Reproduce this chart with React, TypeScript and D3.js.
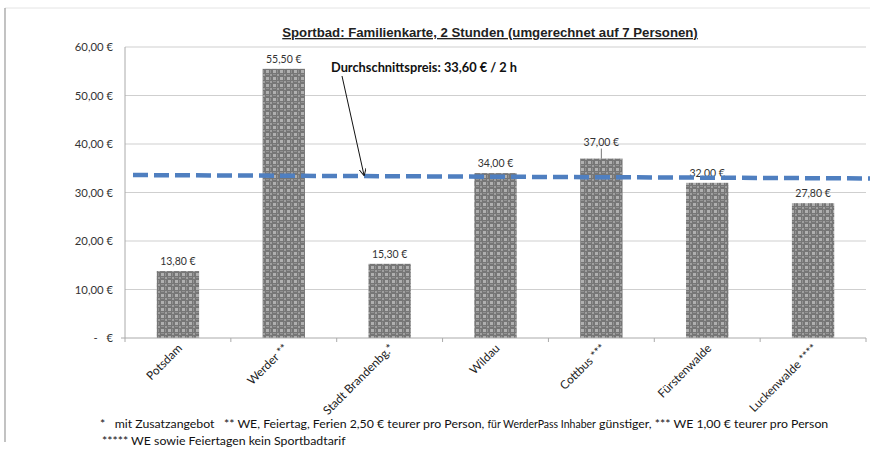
import React from "react";
import * as d3 from "d3";

const categories = ["Potsdam", "Werder **", "Stadt Brandenbg.*", "Wildau", "Cottbus ***", "Fürstenwalde", "Luckenwalde ****"];
const prices = [13.8, 55.5, 15.3, 34.0, 37.0, 32.0, 27.8];
const priceLabels = ["13,80 €", "55,50 €", "15,30 €", "34,00 €", "37,00 €", "32,00 €", "27,80 €"];
const yTicks = [0, 10, 20, 30, 40, 50, 60];
const yTickLabels = ["-   €", "10,00 €", "20,00 €", "30,00 €", "40,00 €", "50,00 €", "60,00 €"];
const avgLine = [33.6, 32.9];
const title = "Sportbad: Familienkarte, 2 Stunden (umgerechnet auf 7 Personen)";
const avgText = "Durchschnittspreis: 33,60 € / 2 h";

const W = 870;
const H = 457;
const plot = { left: 125, right: 866, top: 47, bottom: 338 };
const FONT = "Lato, 'Open Sans', sans-serif";

export default function App() {
  const x = d3.scaleBand<string>().domain(categories).range([plot.left, plot.right]).paddingInner(0.6).paddingOuter(0.3);
  const y = d3.scaleLinear().domain([0, 60]).range([plot.bottom, plot.top]);
  const step = x.step();
  const boundaries = d3.range(categories.length + 1).map((i) => plot.left + i * step);
  const avgX0 = 133;
  const avgX1 = 870;
  const avgPath = d3.line<[number, number]>()([
    [avgX0, y(avgLine[0])],
    [avgX1, y(avgLine[1])],
  ]) as string;
  const arrowEnd: [number, number] = [364, y(avgLine[0] + (avgLine[1] - avgLine[0]) * ((364 - avgX0) / (avgX1 - avgX0))) - 1];

  return (
    <svg width={W} height={H} style={{ position: "absolute", left: 0, top: 0, background: "#fff" }} fontFamily={FONT}>
      <defs>
        <pattern id="plaid" width="7" height="7" patternUnits="userSpaceOnUse">
          <rect width="7" height="7" fill="#767676" />
          <rect x="0" y="0" width="3" height="3" fill="#b0b0b0" />
          <rect x="4" y="4" width="2" height="2" fill="#a0a0a0" />
          <rect x="0" y="4" width="3" height="1" fill="#929292" />
          <rect x="4" y="0" width="1" height="3" fill="#929292" />
        </pattern>
        <marker id="arrow" viewBox="0 0 10 10" refX="9" refY="5" markerWidth="7" markerHeight="7" orient="auto">
          <path d="M0,0 L10,5 L0,10" fill="none" stroke="#111" strokeWidth="1.4" />
        </marker>
      </defs>

      {/* frame */}
      <line x1={5} y1={8} x2={W} y2={8} stroke="#e4e4e4" />
      <line x1={5} y1={8} x2={5} y2={442} stroke="#9a9a9a" strokeWidth={1.2} />

      {/* title */}
      <text x={490} y={37} textAnchor="middle" fontFamily="'Liberation Sans', Arial, sans-serif" fontWeight="bold" fontSize={13.2} fill="#222" textDecoration="underline">
        {title}
      </text>

      {/* gridlines */}
      {yTicks.slice(1).map((t) => (
        <line key={t} x1={plot.left} x2={plot.right} y1={y(t)} y2={y(t)} stroke="#cfcfcf" strokeWidth={1} />
      ))}

      {/* y axis */}
      <line x1={plot.left} x2={plot.left} y1={plot.top} y2={plot.bottom} stroke="#aaa" />
      <line x1={plot.left - 4} x2={plot.left} y1={plot.bottom} y2={plot.bottom} stroke="#aaa" />
      {yTicks.map((t, i) => (
        <text key={t} x={113} y={y(t) + 4} textAnchor="end" fontSize={11.3} fill="#333" style={{ whiteSpace: "pre" }}>
          {yTickLabels[i]}
        </text>
      ))}

      {/* bars */}
      {categories.map((c, i) => (
        <rect key={c} x={x(c)} y={y(prices[i])} width={x.bandwidth()} height={plot.bottom - y(prices[i])} fill="url(#plaid)" />
      ))}

      {/* x axis */}
      <line x1={plot.left} x2={plot.right} y1={plot.bottom} y2={plot.bottom} stroke="#aaa" />
      {boundaries.map((b, i) => (
        <line key={i} x1={b} x2={b} y1={plot.bottom} y2={plot.bottom + 4} stroke="#aaa" />
      ))}
      {categories.map((c) => {
        const cx = (x(c) as number) + x.bandwidth() / 2 + 5;
        const cy = plot.bottom + 11;
        return (
          <text key={c} x={cx} y={cy} transform={`rotate(-45 ${cx} ${cy})`} textAnchor="end" fontSize={11.8} fill="#222">
            {c}
          </text>
        );
      })}

      {/* value labels */}
      {categories.map((c, i) => {
        const cx = (x(c) as number) + x.bandwidth() / 2;
        const lifted = c.startsWith("Cottbus");
        const ly = y(prices[i]) - (lifted ? 13 : 6);
        return (
          <g key={c}>
            {lifted && <line x1={cx} x2={cx} y1={ly + 3} y2={y(prices[i])} stroke="#555" strokeWidth={0.8} />}
            <text x={cx} y={ly} textAnchor="middle" fontSize={10.5} fill="#333">
              {priceLabels[i]}
            </text>
          </g>
        );
      })}

      {/* average line */}
      <path d={avgPath} stroke="#4f7fc0" strokeWidth={4.5} strokeDasharray="15 6" fill="none" />

      {/* annotation */}
      <text x={331} y={72} fontSize={12.8} fontWeight="bold" fill="#111">
        {avgText}
      </text>
      <line x1={342} y1={76} x2={arrowEnd[0]} y2={arrowEnd[1]} stroke="#111" strokeWidth={1} markerEnd="url(#arrow)" />

      {/* footnotes */}
      <text x={100} y={428} fontSize={12.3} fill="#111" style={{ whiteSpace: "pre" }}>
        {"*   mit Zusatzangebot   ** WE, Feiertag, Ferien 2,50 € teurer pro Person, "}
        <tspan fontSize={10.5}>{"für WerderPass Inhaber"}</tspan>
        {" günstiger, *** WE 1,00 € teurer pro Person"}
      </text>
      <text x={102} y={445} fontSize={12.3} fill="#111">
        {"***** WE sowie Feiertagen kein Sportbadtarif"}
      </text>
    </svg>
  );
}
